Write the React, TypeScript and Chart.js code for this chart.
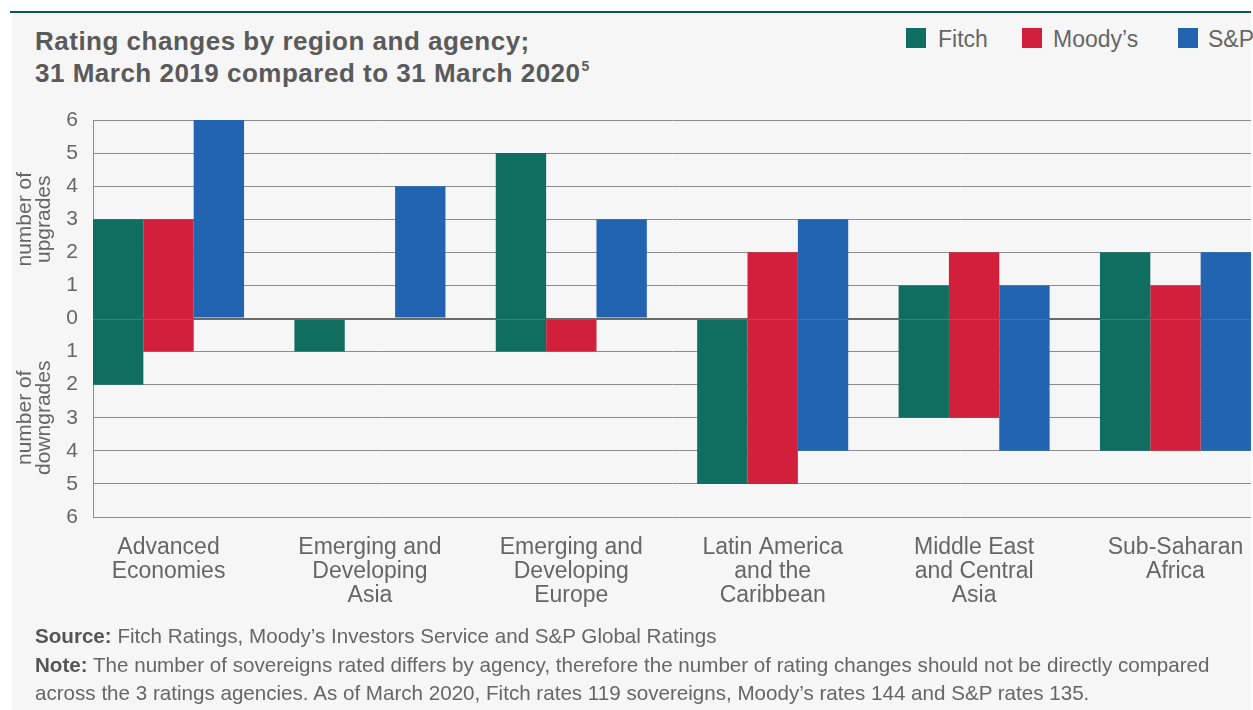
import React, { useEffect, useRef } from "react";
import { Chart, registerables } from "chart.js";

Chart.register(...registerables);

// ---------- data ----------
const categories: string[][] = [
  ["Advanced", "Economies"],
  ["Emerging and", "Developing", "Asia"],
  ["Emerging and", "Developing", "Europe"],
  ["Latin America", "and the", "Caribbean"],
  ["Middle East", "and Central", "Asia"],
  ["Sub-Saharan", "Africa"],
];
const agencies = ["Fitch", "Moody’s", "S&P"];
const fitchUpgrades = [3, 0, 5, 0, 1, 2];
const fitchDowngrades = [2, 1, 1, 5, 3, 4];
const moodysUpgrades = [3, 0, 0, 2, 2, 1];
const moodysDowngrades = [1, 0, 1, 5, 3, 4];
const spUpgrades = [6, 4, 3, 3, 1, 2];
const spDowngrades = [0, 0, 0, 4, 4, 4];
const yMin = -6;
const yMax = 6;
const agencyColors = ["#0f6e60", "#d21f3c", "#2264b0"];

const upgrades = [fitchUpgrades, moodysUpgrades, spUpgrades];
const downgrades = [fitchDowngrades, moodysDowngrades, spDowngrades];

const FONT = "'Liberation Sans', Arial, Helvetica, sans-serif";
const TEXT = "#666666";

const zeroLinePlugin = {
  id: "zeroLine",
  afterDatasetsDraw(chart: any) {
    const { ctx, chartArea, scales } = chart;
    const y = Math.round(scales.y.getPixelForValue(0)) + 0.5;
    ctx.save();
    ctx.strokeStyle = "#6a6a6a";
    ctx.lineWidth = 1;
    ctx.beginPath();
    ctx.moveTo(chartArea.left, y);
    ctx.lineTo(chartArea.right, y);
    ctx.stroke();
    ctx.restore();
  },
};

const axisTitlePlugin = {
  id: "axisTitles",
  afterDraw(chart: any) {
    const { ctx, chartArea, scales } = chart;
    const zero = scales.y.getPixelForValue(0);
    const upCenter = (chartArea.top + zero) / 2;
    const downCenter = (zero + chartArea.bottom) / 2;
    const draw = (lines: string[], cy: number) => {
      ctx.save();
      ctx.translate(0, cy);
      ctx.rotate(-Math.PI / 2);
      ctx.font = `21px ${FONT}`;
      ctx.fillStyle = TEXT;
      ctx.textAlign = "center";
      ctx.textBaseline = "middle";
      lines.forEach((l, i) => ctx.fillText(l, 0, 25 + i * 19));
      ctx.restore();
    };
    draw(["number of", "upgrades"], upCenter);
    draw(["number of", "downgrades"], downCenter);
  },
};

export default function App() {
  const canvasRef = useRef<HTMLCanvasElement | null>(null);

  useEffect(() => {
    document.body.style.margin = "0";
    const canvas = canvasRef.current;
    if (!canvas) return;
    const chart = new Chart(canvas, {
      type: "bar",
      data: {
        datasets: agencies.map((name, k) => ({
          label: name,
          data: upgrades[k].map((u, i) => ({ x: i, y: [-downgrades[k][i], u] })),
          backgroundColor: agencyColors[k],
          borderWidth: 0,
          categoryPercentage: 0.75,
          barPercentage: 1,
        })),
      } as any,
      options: {
        animation: false,
        responsive: false,
        maintainAspectRatio: false,
        layout: { padding: { top: 120, right: 2, left: 0, bottom: 0 } },
        plugins: { legend: { display: false }, tooltip: { enabled: false } },
        scales: {
          x: {
            type: "linear",
            offset: false,
            min: -0.375,
            max: 5.375,
            grid: { display: false },
            border: { display: false },
            afterBuildTicks: (s: any) => {
              s.ticks = categories.map((_, i) => ({ value: i }));
            },
            afterFit: (s: any) => {
              s.height = 193;
              s.paddingLeft = 0;
              s.paddingRight = 0;
            },
            ticks: {
              autoSkip: false,
              maxRotation: 0,
              minRotation: 0,
              padding: 11,
              color: TEXT,
              font: { family: FONT, size: 23, lineHeight: 24 / 23 },
              callback: (v: any) => categories[Math.round(Number(v))] as any,
            },
          },
          y: {
            min: yMin,
            max: yMax,
            grid: {
              color: (c: any) => (c.tick && c.tick.value === 0 ? "#6a6a6a" : "#8c8c8c"),
              lineWidth: (c: any) => (c.tick && c.tick.value === 0 ? 2 : 1),
              drawTicks: false,
            },
            border: { display: true, color: "#8c8c8c", width: 1 },
            afterFit: (s: any) => {
              s.width = 93;
            },
            ticks: {
              stepSize: 1,
              padding: 15,
              color: TEXT,
              font: { family: FONT, size: 21 },
              callback: (v: any) => String(Math.abs(Number(v))),
            },
          },
        },
      } as any,
      plugins: [zeroLinePlugin, axisTitlePlugin],
    });
    return () => chart.destroy();
  }, []);

  const legendItems = [
    { sq: 906, tx: 938 },
    { sq: 1022, tx: 1053 },
    { sq: 1178, tx: 1208 },
  ];

  return (
    <div
      style={{
        position: "fixed",
        left: 0,
        top: 0,
        width: 1253,
        height: 710,
        overflow: "hidden",
        background: "#ffffff",
        fontFamily: FONT,
      }}
    >
      <div style={{ position: "absolute", left: 12, top: 13, width: 1239, height: 697, background: "#f6f6f6" }} />
      <div style={{ position: "absolute", left: 10, top: 11, width: 1241, height: 2, background: "#0c5a4b" }} />
      <div
        style={{
          position: "absolute",
          left: 35,
          top: 25,
          fontSize: 26,
          lineHeight: "32px",
          fontWeight: 700,
          letterSpacing: 0.5,
          color: "#5a5a5a",
          whiteSpace: "nowrap",
        }}
      >
        <div>Rating changes by region and agency;</div>
        <div>
          31 March 2019 compared to 31 March 2020
          <span style={{ fontSize: 14, position: "relative", top: -11, marginLeft: 1, lineHeight: 0 }}>5</span>
        </div>
      </div>
      {legendItems.map((it, k) => (
        <React.Fragment key={k}>
          <div
            style={{
              position: "absolute",
              left: it.sq,
              top: 28,
              width: 20,
              height: 20,
              background: agencyColors[k],
            }}
          />
          <div
            style={{
              position: "absolute",
              left: it.tx,
              top: 27.5,
              fontSize: 23,
              lineHeight: "23px",
              color: TEXT,
              whiteSpace: "nowrap",
            }}
          >
            {agencies[k]}
          </div>
        </React.Fragment>
      ))}
      <canvas
        ref={canvasRef}
        width={1253}
        height={710}
        style={{ position: "absolute", left: 0, top: 0, width: 1253, height: 710 }}
      />
      <div
        style={{
          position: "absolute",
          left: 35,
          top: 622.3,
          fontSize: 20.6,
          lineHeight: "28.5px",
          color: TEXT,
          whiteSpace: "nowrap",
        }}
      >
        <div>
          <b style={{ color: "#555" }}>Source:</b> Fitch Ratings, Moody’s Investors Service and S&amp;P Global Ratings
        </div>
        <div>
          <b style={{ color: "#555" }}>Note:</b> The number of sovereigns rated differs by agency, therefore the number of
          rating changes should not be directly compared
        </div>
        <div>
          across the 3 ratings agencies. As of March 2020, Fitch rates 119 sovereigns, Moody’s rates 144 and S&amp;P rates
          135.
        </div>
      </div>
    </div>
  );
}
